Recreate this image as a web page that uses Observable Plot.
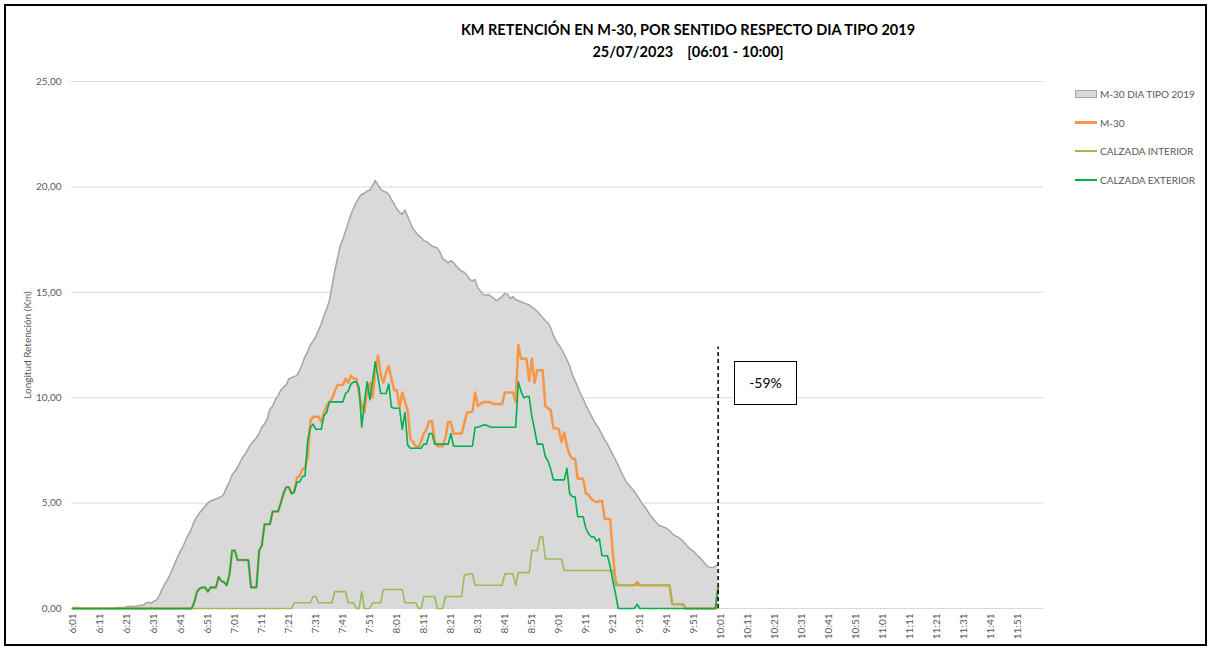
<!DOCTYPE html>
<html>
<head>
<meta charset="utf-8">
<script src="https://cdn.jsdelivr.net/npm/d3@7"></script>
<script src="https://cdn.jsdelivr.net/npm/@observablehq/plot@0.6"></script>
<style>
  html, body { margin: 0; padding: 0; background: #fff; }
  #wrap { position: relative; width: 1212px; height: 650px; overflow: hidden; font-family: Lato, "Open Sans", sans-serif; }
  #frame { position: absolute; left: 4px; top: 4px; width: 1203px; height: 642px; border: 2px solid #000; box-sizing: border-box; pointer-events: none; }
  #title { position: absolute; left: 388px; top: 19px; width: 600px; text-align: center; font-weight: bold; font-size: 14.5px; line-height: 22px; color: #000; white-space: pre; }
  #legend { position: absolute; left: 1075px; top: 86px; font-size: 10px; color: #595959; }
  .li { position: relative; height: 28.5px; }
  .sw { position: absolute; left: 0; top: 5px; width: 22px; }
  .lt { position: absolute; left: 25px; top: 0; line-height: 16px; white-space: nowrap; }
  #box { position: absolute; left: 734px; top: 361px; width: 63px; height: 44px; border: 1.5px solid #000; box-sizing: border-box; background: #fff; font-size: 14px; text-align: center; line-height: 41px; color: #000; }
</style>
</head>
<body>
<div id="wrap">
  <div id="chart"></div>
  <div id="title">KM RETENCIÓN EN M-30, POR SENTIDO RESPECTO DIA TIPO 2019
25/07/2023    [06:01 - 10:00]</div>
  <div id="legend"></div>
  <div id="box">-59%</div>
  <div id="frame"></div>
</div>
<script>
// ---- Data (values per minute, from 6:01 to 10:00) ----
const startLabel = "6:01";
const nCategories = 360; // 6:01 .. 12:00 on the category axis

const tickLabels = ["6:01","6:11","6:21","6:31","6:41","6:51","7:01","7:11","7:21","7:31","7:41","7:51",
  "8:01","8:11","8:21","8:31","8:41","8:51","9:01","9:11","9:21","9:31","9:41","9:51",
  "10:01","10:11","10:21","10:31","10:41","10:51","11:01","11:11","11:21","11:31","11:41","11:51"];
const yTicks = [0, 5, 10, 15, 20, 25];

const seriesNames = ["M-30 DIA TIPO 2019", "M-30", "CALZADA INTERIOR", "CALZADA EXTERIOR"];

const tipo2019 = [
0.05,0.05,0.05,0,0,0,0,0,0,0,
0,0,0,0,0,0,0.05,0.05,0.05,0.05,
0.08,0.1,0.1,0.1,0.12,0.15,0.15,0.25,0.3,0.25,
0.35,0.4,0.6,0.9,1.15,1.35,1.6,1.9,2.2,2.5,
2.75,3.0,3.3,3.55,3.8,4.15,4.35,4.55,4.7,4.85,
5.0,5.1,5.15,5.2,5.25,5.3,5.45,5.75,6.0,6.35,
6.5,6.7,6.95,7.2,7.35,7.6,7.8,7.95,8.1,8.3,
8.6,8.75,9.0,9.45,9.6,9.9,10.1,10.35,10.5,10.6,
10.9,10.95,11.0,11.05,11.3,11.6,11.95,12.2,12.5,12.7,
12.9,13.2,13.5,13.9,14.2,14.6,15.3,16.0,16.6,17.2,
17.5,17.9,18.3,18.7,19.0,19.25,19.5,19.65,19.7,19.8,
19.85,20.05,20.3,20.1,19.9,19.8,19.75,19.65,19.4,19.2,
18.95,18.8,18.7,18.9,18.6,18.3,18.0,17.85,17.7,17.6,
17.45,17.4,17.3,17.2,17.15,17.1,16.9,16.6,16.5,16.4,
16.5,16.4,16.25,16.1,16.0,15.95,15.8,15.6,15.55,15.6,
15.2,15.05,14.9,14.85,14.9,14.8,14.7,14.6,14.7,14.8,
14.95,14.9,14.7,14.8,14.65,14.6,14.55,14.5,14.45,14.4,
14.3,14.2,14.1,13.95,13.8,13.65,13.55,13.3,12.95,12.7,
12.5,12.3,12.05,11.8,11.5,11.1,10.8,10.5,10.2,9.95,
9.65,9.4,9.15,8.9,8.7,8.5,8.25,8.0,7.8,7.55,
7.3,7.05,6.8,6.5,6.25,6.0,5.85,5.7,5.55,5.35,
5.15,4.95,4.8,4.6,4.4,4.25,4.1,3.95,3.9,3.85,
3.8,3.7,3.55,3.45,3.4,3.3,3.2,3.05,2.9,2.8,
2.7,2.55,2.45,2.3,2.15,2.0,1.95,1.95,2.0,2.1];

const m30 = [
0,0,0,0,0,0,0,0,0,0,
0,0,0,0,0,0,0,0,0,0,
0,0,0,0,0,0,0,0,0,0,
0,0,0,0,0,0,0,0,0,0,
0,0,0,0,0,0.3,0.8,0.95,1.0,1.0,
0.8,1.0,1.0,1.0,1.5,1.3,1.25,1.1,1.6,2.75,
2.75,2.3,2.3,2.3,2.3,2.3,1.0,1.0,1.0,2.75,
3.0,4.0,4.0,4.0,4.6,4.6,4.6,5.0,5.45,5.75,
5.75,5.45,5.6,6.2,6.3,6.6,6.7,7.2,8.9,9.1,
9.1,9.1,8.85,9.3,9.6,9.8,9.95,10.3,10.6,10.6,
10.6,10.9,10.7,11.05,10.9,10.9,10.2,9.6,9.3,10.35,
10.7,10.0,11.2,12.0,11.1,10.7,11.2,11.5,10.9,10.35,
10.35,9.55,10.25,9.8,9.4,8.05,7.9,7.7,7.65,7.95,
8.3,8.5,8.9,8.9,7.95,7.7,7.7,7.7,8.1,8.85,
8.85,8.3,8.3,8.3,8.3,8.8,9.3,9.3,9.35,10.25,
9.6,9.7,9.8,9.8,9.8,9.75,9.7,9.7,9.7,9.7,
10.25,10.25,10.25,10.25,9.8,12.5,11.85,11.85,11.85,10.8,
11.85,10.7,11.3,11.3,11.3,9.6,9.5,9.4,8.55,8.55,
8.5,7.9,8.35,7.7,7.3,7.1,7.1,6.15,6.15,6.15,
5.45,5.4,5.2,5.1,5.05,5.1,5.1,4.25,4.25,4.25,
2.6,1.3,1.1,1.1,1.1,1.1,1.1,1.1,1.1,1.25,
1.1,1.1,1.1,1.1,1.1,1.1,1.1,1.1,1.1,1.1,
1.1,1.1,0.2,0.2,0.2,0.2,0.2,0,0,0,
0,0,0,0,0,0,0,0,0,1.0];

const interior = [
0,0,0,0,0,0,0,0,0,0,
0,0,0,0,0,0,0,0,0,0,
0,0,0,0,0,0,0,0,0,0,
0,0,0,0,0,0,0,0,0,0,
0,0,0,0,0,0,0,0,0,0,
0,0,0,0,0,0,0,0,0,0,
0,0,0,0,0,0,0,0,0,0,
0,0,0,0,0,0,0,0,0,0,
0,0,0.27,0.27,0.27,0.27,0.27,0.27,0.27,0.57,
0.57,0.27,0.27,0.27,0.27,0.27,0.27,0.8,0.8,0.8,
0.8,0.8,0.27,0.27,0.27,0,0,0.8,0,0,
0,0.27,0.27,0.27,0.27,0.9,0.9,0.9,0.9,0.9,
0.9,0.9,0.9,0.27,0.27,0.27,0.27,0.27,0,0,
0.57,0.57,0.57,0.57,0.57,0,0,0,0.57,0.57,
0.57,0.57,0.57,0.57,0.57,1.6,1.6,1.65,1.65,1.1,
1.1,1.1,1.1,1.1,1.1,1.1,1.1,1.1,1.1,1.1,
1.65,1.65,1.65,1.65,1.1,1.7,1.7,1.7,1.7,1.7,
2.75,2.75,2.75,3.4,3.4,2.35,2.35,2.35,2.35,2.35,
2.35,2.35,1.8,1.8,1.8,1.8,1.8,1.8,1.8,1.8,
1.8,1.8,1.8,1.8,1.8,1.8,1.8,1.8,1.8,1.8,
1.8,1.1,1.1,1.1,1.1,1.1,1.1,1.1,1.1,1.1,
1.1,1.1,1.1,1.1,1.1,1.1,1.1,1.1,1.1,1.1,
1.1,1.1,0.2,0.2,0.2,0.2,0.2,0,0,0,
0,0,0,0,0,0,0,0,0,0];

const exterior = [
0,0,0,0,0,0,0,0,0,0,
0,0,0,0,0,0,0,0,0,0,
0,0,0,0,0,0,0,0,0,0,
0,0,0,0,0,0,0,0,0,0,
0,0,0,0,0,0.3,0.8,0.95,1.0,1.0,
0.8,1.0,1.0,1.0,1.5,1.3,1.25,1.1,1.6,2.75,
2.75,2.3,2.3,2.3,2.3,2.3,1.0,1.0,1.0,2.75,
3.0,4.0,4.0,4.0,4.6,4.6,4.6,5.0,5.45,5.75,
5.75,5.45,5.5,6.0,6.0,6.25,6.3,8.0,8.6,8.75,
8.5,8.5,8.5,9.15,9.3,9.8,9.8,9.8,9.8,9.8,
9.8,10.2,10.3,10.65,10.75,10.75,10.5,8.6,9.8,10.75,
9.9,10.8,11.7,11.0,10.2,10.2,10.2,10.65,9.55,9.5,
9.5,9.5,8.5,9.3,7.75,7.6,7.6,7.6,7.6,7.6,
7.8,7.8,8.3,8.3,7.8,7.8,7.8,7.8,7.8,7.8,
8.3,7.7,7.7,7.7,7.7,7.7,7.7,7.7,7.7,8.6,
8.6,8.65,8.7,8.7,8.65,8.6,8.6,8.6,8.6,8.6,
8.6,8.6,8.6,8.6,8.6,10.75,10.3,10.0,10.05,10.05,
9.1,8.5,7.8,7.8,7.8,7.2,7.0,6.6,6.1,6.1,
6.1,6.1,6.1,6.65,5.45,5.3,5.3,4.35,4.35,4.35,
3.8,3.55,3.4,3.4,3.2,3.3,2.5,2.5,2.5,2.0,
1.3,0.7,0,0,0,0,0,0,0,0.2,
0,0,0,0,0,0,0,0,0,0,
0,0,0,0,0,0,0,0,0,0,
0,0,0,0,0,0,0,0,0,1.0];

const annotationTime = "10:00";
const annotationTop = 12.4;
const colors = { tipo: "#d9d9d9", tipoLine: "#a6a6a6", m30: "#f79646", interior: "#9bbb59", exterior: "#00b050" };

// ---- Category labels (minutes) ----
const [h0, m0] = startLabel.split(":").map(Number);
const minutes = d3.range(nCategories).map(i => {
  const t = h0 * 60 + m0 + i;
  return `${Math.floor(t / 60)}:${String(t % 60).padStart(2, "0")}`;
});
const toRows = arr => arr.map((v, i) => ({ t: minutes[i], v }));

const fmtY = d => d.toFixed(2).replace(".", ",");

const chart = Plot.plot({
  width: 1212,
  height: 650,
  marginLeft: 71,
  marginRight: 169,
  marginTop: 81,
  marginBottom: 42,
  style: { fontFamily: "Lato, 'Open Sans', sans-serif", fontSize: "10px", color: "#595959", background: "transparent", overflow: "visible" },
  x: { type: "point", domain: minutes, padding: 0.5 },
  y: { domain: [0, 25] },
  marks: [
    Plot.gridY(yTicks, { stroke: "#d9d9d9", strokeOpacity: 1, strokeWidth: 1 }),
    Plot.areaY(toRows(tipo2019), { x: "t", y: "v", fill: colors.tipo, fillOpacity: 1 }),
    Plot.lineY(toRows(tipo2019), { x: "t", y: "v", stroke: colors.tipoLine, strokeWidth: 1.5 }),
    Plot.lineY(toRows(m30), { x: "t", y: "v", stroke: colors.m30, strokeWidth: 2.5 }),
    Plot.lineY(toRows(interior), { x: "t", y: "v", stroke: colors.interior, strokeWidth: 1.6 }),
    Plot.lineY(toRows(exterior), { x: "t", y: "v", stroke: colors.exterior, strokeWidth: 1.6 }),
    Plot.ruleX([annotationTime], { y1: 0, y2: annotationTop, stroke: "#000", strokeWidth: 1.5, strokeDasharray: "4,3" }),
    Plot.axisY({ ticks: yTicks, tickSize: 0, tickPadding: 10, tickFormat: fmtY,
      label: "Longitud Retención (Km)", labelAnchor: "center", labelArrow: "none", labelOffset: 48 }),
    Plot.axisX({ ticks: tickLabels, tickSize: 0, tickPadding: 5, tickRotate: -90, label: null })
  ]
});
document.getElementById("chart").appendChild(chart);

// ---- Legend ----
const legend = d3.select("#legend");
const legendItems = [
  { name: seriesNames[0], kind: "area", color: colors.tipo, border: colors.tipoLine },
  { name: seriesNames[1], kind: "line", color: colors.m30, w: 3 },
  { name: seriesNames[2], kind: "line", color: colors.interior, w: 2 },
  { name: seriesNames[3], kind: "line", color: colors.exterior, w: 2 }
];
legendItems.forEach(it => {
  const row = legend.append("div").attr("class", "li");
  const sw = row.append("div").attr("class", "sw");
  if (it.kind === "area") {
    sw.style("height", "8px").style("background", it.color).style("border", `1px solid ${it.border}`).style("box-sizing", "border-box").style("top", "4px");
  } else {
    sw.style("height", it.w + "px").style("background", it.color).style("top", (8 - it.w / 2) + "px");
  }
  row.append("div").attr("class", "lt").text(it.name);
});
</script>
</body>
</html>
